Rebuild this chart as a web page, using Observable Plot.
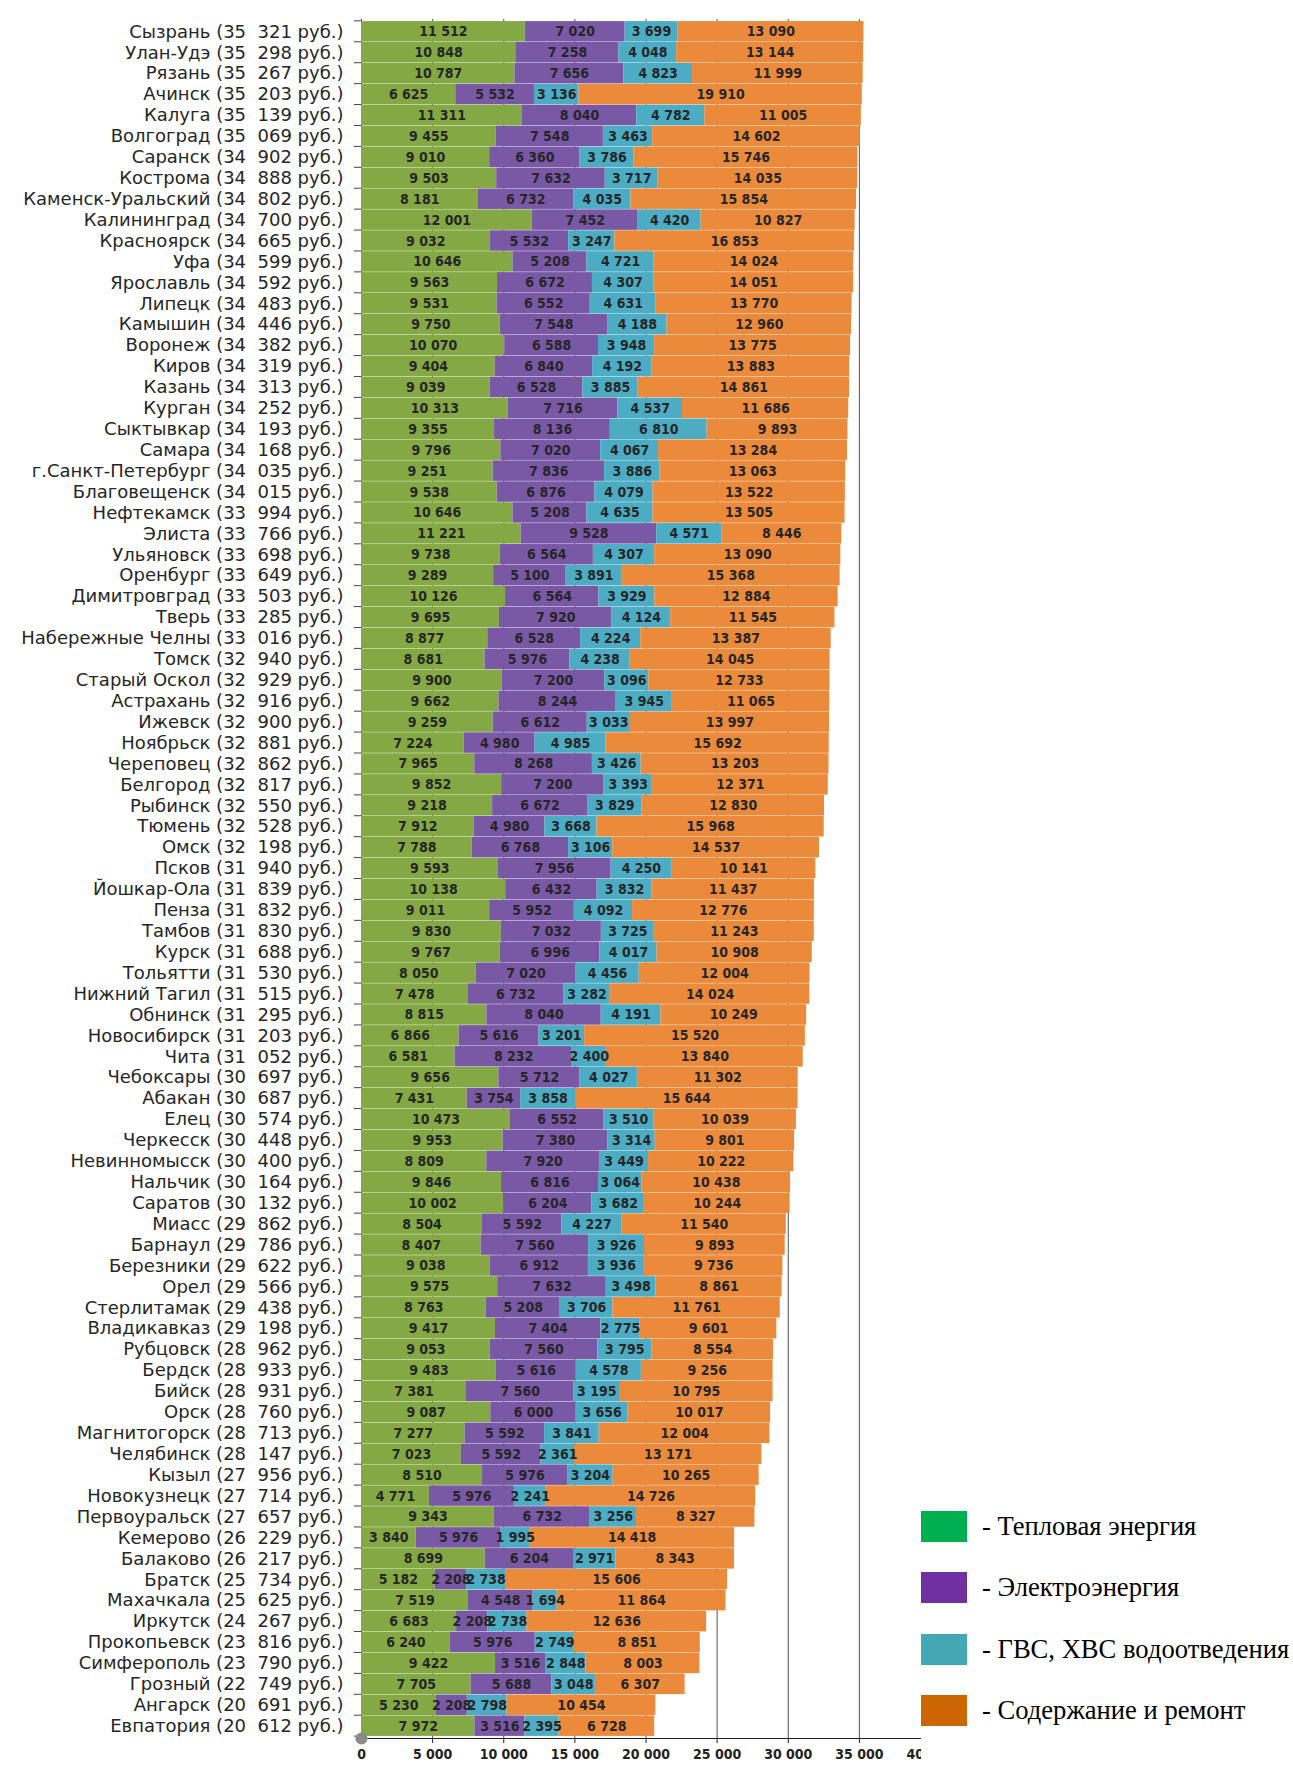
<!DOCTYPE html>
<html>
<head>
<meta charset="utf-8">
<script src="https://cdn.jsdelivr.net/npm/d3@7"></script>
<script src="https://cdn.jsdelivr.net/npm/@observablehq/plot@0.6"></script>
<style>
  html, body { margin: 0; padding: 0; background: #fff; }
  #wrap { position: relative; width: 1293px; height: 1767px; overflow: hidden; background: #fff; }
  #chart { position: absolute; left: 0; top: 0; width: 921px; height: 1767px; overflow: hidden; }
  #legend { position: absolute; left: 921px; top: 1511px; font-family: "Liberation Serif", "Times New Roman", serif; font-size: 26.6px; color: #000; }
  .item { position: absolute; left: 0; display: flex; align-items: center; white-space: nowrap; height: 31px; }
  .sw { width: 46px; height: 31px; margin-right: 15px; flex: none; }
</style>
</head>
<body>
<div id="wrap">
  <div id="chart"></div>
  <div id="legend"></div>
</div>
<script>
const cities = ["Сызрань", "Улан-Удэ", "Рязань", "Ачинск", "Калуга", "Волгоград", "Саранск", "Кострома", "Каменск-Уральский", "Калининград",
  "Красноярск", "Уфа", "Ярославль", "Липецк", "Камышин", "Воронеж", "Киров", "Казань", "Курган", "Сыктывкар",
  "Самара", "г.Санкт-Петербург", "Благовещенск", "Нефтекамск", "Элиста", "Ульяновск", "Оренбург", "Димитровград", "Тверь", "Набережные Челны",
  "Томск", "Старый Оскол", "Астрахань", "Ижевск", "Ноябрьск", "Череповец", "Белгород", "Рыбинск", "Тюмень", "Омск",
  "Псков", "Йошкар-Ола", "Пенза", "Тамбов", "Курск", "Тольятти", "Нижний Тагил", "Обнинск", "Новосибирск", "Чита",
  "Чебоксары", "Абакан", "Елец", "Черкесск", "Невинномысск", "Нальчик", "Саратов", "Миасс", "Барнаул", "Березники",
  "Орел", "Стерлитамак", "Владикавказ", "Рубцовск", "Бердск", "Бийск", "Орск", "Магнитогорск", "Челябинск", "Кызыл",
  "Новокузнецк", "Первоуральск", "Кемерово", "Балаково", "Братск", "Махачкала", "Иркутск", "Прокопьевск", "Симферополь", "Грозный",
  "Ангарск", "Евпатория"];

const totals = [35321, 35298, 35267, 35203, 35139, 35069, 34902, 34888, 34802, 34700,
  34665, 34599, 34592, 34483, 34446, 34382, 34319, 34313, 34252, 34193,
  34168, 34035, 34015, 33994, 33766, 33698, 33649, 33503, 33285, 33016,
  32940, 32929, 32916, 32900, 32881, 32862, 32817, 32550, 32528, 32198,
  31940, 31839, 31832, 31830, 31688, 31530, 31515, 31295, 31203, 31052,
  30697, 30687, 30574, 30448, 30400, 30164, 30132, 29862, 29786, 29622,
  29566, 29438, 29198, 28962, 28933, 28931, 28760, 28713, 28147, 27956,
  27714, 27657, 26229, 26217, 25734, 25625, 24267, 23816, 23790, 22749,
  20691, 20612];

const heat = [11512, 10848, 10787, 6625, 11311, 9455, 9010, 9503, 8181, 12001,
  9032, 10646, 9563, 9531, 9750, 10070, 9404, 9039, 10313, 9355,
  9796, 9251, 9538, 10646, 11221, 9738, 9289, 10126, 9695, 8877,
  8681, 9900, 9662, 9259, 7224, 7965, 9852, 9218, 7912, 7788,
  9593, 10138, 9011, 9830, 9767, 8050, 7478, 8815, 6866, 6581,
  9656, 7431, 10473, 9953, 8809, 9846, 10002, 8504, 8407, 9038,
  9575, 8763, 9417, 9053, 9483, 7381, 9087, 7277, 7023, 8510,
  4771, 9343, 3840, 8699, 5182, 7519, 6683, 6240, 9422, 7705,
  5230, 7972];

const electricity = [7020, 7258, 7656, 5532, 8040, 7548, 6360, 7632, 6732, 7452,
  5532, 5208, 6672, 6552, 7548, 6588, 6840, 6528, 7716, 8136,
  7020, 7836, 6876, 5208, 9528, 6564, 5100, 6564, 7920, 6528,
  5976, 7200, 8244, 6612, 4980, 8268, 7200, 6672, 4980, 6768,
  7956, 6432, 5952, 7032, 6996, 7020, 6732, 8040, 5616, 8232,
  5712, 3754, 6552, 7380, 7920, 6816, 6204, 5592, 7560, 6912,
  7632, 5208, 7404, 7560, 5616, 7560, 6000, 5592, 5592, 5976,
  5976, 6732, 5976, 6204, 2208, 4548, 2208, 5976, 3516, 5688,
  2208, 3516];

const water = [3699, 4048, 4823, 3136, 4782, 3463, 3786, 3717, 4035, 4420,
  3247, 4721, 4307, 4631, 4188, 3948, 4192, 3885, 4537, 6810,
  4067, 3886, 4079, 4635, 4571, 4307, 3891, 3929, 4124, 4224,
  4238, 3096, 3945, 3033, 4985, 3426, 3393, 3829, 3668, 3106,
  4250, 3832, 4092, 3725, 4017, 4456, 3282, 4191, 3201, 2400,
  4027, 3858, 3510, 3314, 3449, 3064, 3682, 4227, 3926, 3936,
  3498, 3706, 2775, 3795, 4578, 3195, 3656, 3841, 2361, 3204,
  2241, 3256, 1995, 2971, 2738, 1694, 2738, 2749, 2848, 3048,
  2798, 2395];

const maintenance = [13090, 13144, 11999, 19910, 11005, 14602, 15746, 14035, 15854, 10827,
  16853, 14024, 14051, 13770, 12960, 13775, 13883, 14861, 11686, 9893,
  13284, 13063, 13522, 13505, 8446, 13090, 15368, 12884, 11545, 13387,
  14045, 12733, 11065, 13997, 15692, 13203, 12371, 12830, 15968, 14537,
  10141, 11437, 12776, 11243, 10908, 12004, 14024, 10249, 15520, 13840,
  11302, 15644, 10039, 9801, 10222, 10438, 10244, 11540, 9893, 9736,
  8861, 11761, 9601, 8554, 9256, 10795, 10017, 12004, 13171, 10265,
  14726, 8327, 14418, 8343, 15606, 11864, 12636, 8851, 8003, 6307,
  10454, 6728];

const seriesNames = ["Тепловая энергия", "Электроэнергия", "ГВС, ХВС водоотведения", "Содержание и ремонт"];
const barColors = ["#84a944", "#7958a6", "#4cacc4", "#ec8a3c"];
const legendColors = ["#00b050", "#7030a0", "#43a8b4", "#cc6600"];
const xTicks = [0, 5000, 10000, 15000, 20000, 25000, 30000, 35000, 40000];

const seriesValues = [heat, electricity, water, maintenance];
const rows = [];
cities.forEach((city, i) => {
  seriesNames.forEach((s, k) => rows.push({city, series: s, value: seriesValues[k][i]}));
});

const fmt = v => d3.format(",")(v).replace(/,/g, "\u00a0");
const fmtTotal = v => d3.format(",")(v).replace(/,/g, "\u00a0\u00a0");

function categoryTicks(index, scales, values, dimensions) {
  const g = d3.create("svg:g").attr("stroke", "#444").attr("stroke-width", 1);
  try {
    const y = scales.y;
    const bw = typeof y.bandwidth === "function" ? y.bandwidth() : y.bandwidth;
    const step = typeof y.step === "function" ? y.step() : bw;
    const gap = (step - bw) / 2;
    const x0 = dimensions.marginLeft;
    const ys = cities.map(c => y(c) - gap);
    ys.push(y(cities[cities.length - 1]) + bw + gap);
    for (const yy of ys) {
      g.append("line").attr("x1", x0 - 7).attr("x2", x0).attr("y1", yy).attr("y2", yy);
    }
  } catch (e) {}
  return g.node();
}

const chart = Plot.plot({
  width: 930,
  height: 1767,
  marginLeft: 361,
  marginRight: 0,
  marginTop: 19,
  marginBottom: 29,
  style: {
    fontFamily: "'DejaVu Sans Condensed', 'DejaVu Sans', sans-serif",
    fontSize: "14px",
    fontWeight: "bold",
    color: "#222",
    background: "white",
    maxWidth: "none",
    overflow: "visible"
  },
  x: {domain: [0, 40000], ticks: xTicks, tickFormat: fmt, tickSize: 5, tickPadding: 6, line: true, label: null},
  y: {domain: cities, axis: null, paddingInner: 0.02, paddingOuter: 0.1},
  color: {domain: seriesNames, range: barColors},
  marks: [
    Plot.ruleX(xTicks, {x: d => d, stroke: "#505050", strokeWidth: 1}),
    Plot.barX(rows, {y: "city", x: "value", fill: "series"}),
    Plot.text(rows, Plot.stackX({
      y: "city", x: "value", z: "series",
      text: d => fmt(d.value),
      fill: "#262626",
      fontSize: 14,
      fontWeight: "bold"
    })),
    Plot.text(cities, {
      y: d => d,
      text: (d, i) => `${d} (${fmtTotal(totals[i])} руб.)`,
      frameAnchor: "left",
      textAnchor: "end",
      dx: -18,
      fontFamily: "'DejaVu Sans', sans-serif",
      fontSize: 18,
      fontWeight: "normal",
      fill: "#262626"
    }),
    categoryTicks,
    Plot.dot([0], {x: d => d, frameAnchor: "bottom", r: 6, fill: "#8a8a8a"})
  ]
});
document.getElementById("chart").appendChild(chart);

const legend = document.getElementById("legend");
const legendTops = [0, 61, 123, 184];
seriesNames.forEach((s, k) => {
  const item = document.createElement("div");
  item.className = "item";
  item.style.top = legendTops[k] + "px";
  const sw = document.createElement("div");
  sw.className = "sw";
  sw.style.background = legendColors[k];
  const tx = document.createElement("span");
  tx.textContent = "- " + s;
  item.appendChild(sw);
  item.appendChild(tx);
  legend.appendChild(item);
});
</script>
</body>
</html>
